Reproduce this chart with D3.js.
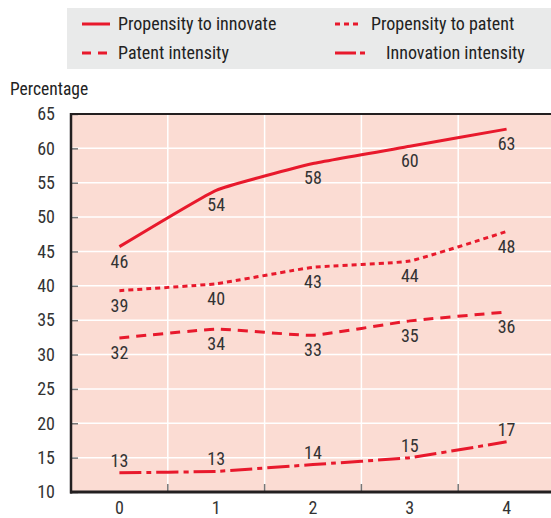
<!DOCTYPE html>
<html>
<head>
<meta charset="utf-8">
<script src="https://cdn.jsdelivr.net/npm/d3@7"></script>
<style>
  body { margin: 0; background: #fff; }
  svg { display: block; font-family: "Liberation Sans Narrow", "Roboto Condensed", "DejaVu Sans Condensed", sans-serif; }
</style>
</head>
<body>
<div class="chart"></div>
<script>
const categories = ["0", "1", "2", "3", "4"];
const propensityInnovate = [45.7, 53.9, 57.8, 60.3, 62.8];
const propensityPatent = [39.3, 40.3, 42.7, 43.6, 47.9];
const patentIntensity = [32.4, 33.7, 32.8, 34.9, 36.2];
const innovationIntensity = [12.8, 13.0, 14.0, 15.0, 17.3];
const labelsInnovate = ["46", "54", "58", "60", "63"];
const labelsPropPatent = ["39", "40", "43", "44", "48"];
const labelsPatentInt = ["32", "34", "33", "35", "36"];
const labelsInnovInt = ["13", "13", "14", "15", "17"];
const yTicks = [10, 15, 20, 25, 30, 35, 40, 45, 50, 55, 60, 65];

const series = [
  { name: "Propensity to innovate", values: propensityInnovate, labels: labelsInnovate, dash: null, below: true },
  { name: "Propensity to patent", values: propensityPatent, labels: labelsPropPatent, dash: "5,4", below: true },
  { name: "Patent intensity", values: patentIntensity, labels: labelsPatentInt, dash: "10,7", below: true },
  { name: "Innovation intensity", values: innovationIntensity, labels: labelsInnovInt, dash: "22,5,5,5", below: false }
];

const red = "#e8192c";
const textColor = "#333";
const fontSize = 18;

const svg = d3.select(".chart").append("svg").attr("width", 551).attr("height", 518);

const plot = { left: 71, right: 555, top: 114, bottom: 492 };

const x = d3.scaleBand().domain(categories).range([plot.left, plot.right]);
const y = d3.scaleLinear().domain([10, 65]).range([plot.bottom, plot.top]);

//plot background
svg.append("rect")
  .attr("x", plot.left).attr("y", plot.top)
  .attr("width", plot.right - plot.left).attr("height", plot.bottom - plot.top)
  .attr("fill", "#fbdcd3");

//grid lines
svg.append("g").selectAll("line")
  .data(yTicks.slice(1, -1))
  .enter().append("line")
  .attr("x1", plot.left).attr("x2", plot.right)
  .attr("y1", d => y(d)).attr("y2", d => y(d))
  .attr("stroke", "#fff").attr("stroke-width", 1.5);

svg.append("g").selectAll("line")
  .data(categories.slice(1))
  .enter().append("line")
  .attr("x1", d => x(d)).attr("x2", d => x(d))
  .attr("y1", plot.top).attr("y2", plot.bottom)
  .attr("stroke", "#fff").attr("stroke-width", 1.5);

//y axis
const yAxis = d3.axisLeft(y).tickValues(yTicks).tickSize(-7).tickPadding(16);
const yg = svg.append("g").attr("transform", `translate(${plot.left},0)`).call(yAxis);
yg.select(".domain").remove();
yg.selectAll(".tick line").attr("stroke", "#777").attr("stroke-width", 1.5);
yg.selectAll(".tick text").attr("fill", textColor).attr("font-size", fontSize);
yg.attr("font-family", null).attr("font-size", null);

//x axis
const xAxis = d3.axisBottom(x).tickSize(0).tickPadding(9);
const xg = svg.append("g").attr("transform", `translate(0,${plot.bottom})`).call(xAxis);
xg.select(".domain").remove();
xg.selectAll(".tick text").attr("fill", textColor).attr("font-size", fontSize);
xg.attr("font-family", null).attr("font-size", null);

//bottom ticks between bands
svg.append("g").selectAll("line")
  .data(categories.slice(1))
  .enter().append("line")
  .attr("x1", d => x(d)).attr("x2", d => x(d))
  .attr("y1", plot.bottom - 8).attr("y2", plot.bottom)
  .attr("stroke", "#777").attr("stroke-width", 1.5);

//frame lines
svg.append("line").attr("x1", plot.left).attr("x2", plot.right).attr("y1", plot.top).attr("y2", plot.top)
  .attr("stroke", "#231f20").attr("stroke-width", 2);
svg.append("line").attr("x1", plot.left).attr("x2", plot.left).attr("y1", plot.top - 1).attr("y2", plot.bottom + 1.5)
  .attr("stroke", "#231f20").attr("stroke-width", 2.5);
svg.append("line").attr("x1", plot.left - 1).attr("x2", plot.right).attr("y1", plot.bottom).attr("y2", plot.bottom)
  .attr("stroke", "#231f20").attr("stroke-width", 3);

//lines
const cx = (d, i) => x(categories[i]) + x.bandwidth() / 2;
const line = d3.line()
  .x(cx)
  .y(d => y(d))
  .curve(d3.curveCardinal.tension(0.65));

series.forEach(s => {
  svg.append("path")
    .datum(s.values)
    .attr("d", line)
    .attr("fill", "none")
    .attr("stroke", red)
    .attr("stroke-width", 3)
    .attr("stroke-dasharray", s.dash);

  svg.append("g").selectAll("text")
    .data(s.values)
    .enter().append("text")
    .attr("x", cx)
    .attr("y", d => s.below ? y(d) + 21 : y(d) - 6)
    .attr("text-anchor", "middle")
    .attr("font-size", fontSize)
    .attr("fill", textColor)
    .text((d, i) => s.labels[i]);
});

//y title
svg.append("text").attr("x", 10).attr("y", 95).attr("font-size", 17.5).attr("fill", "#222").text("Percentage");

//legend
svg.append("rect").attr("x", 67).attr("y", 8).attr("width", 490).attr("height", 61).attr("fill", "#e9eaea");

const legendPos = [
  { lx: 82, tx: 118, y: 24, len: 28, dash: null },
  { lx: 335, tx: 371, y: 24, len: 26, dash: "5,4" },
  { lx: 82, tx: 118, y: 53, len: 28, dash: "9,7" },
  { lx: 335, tx: 386, y: 53, len: 31, dash: "21,4,5,4" }
];

series.forEach((s, i) => {
  const p = legendPos[i];
  svg.append("line")
    .attr("x1", p.lx).attr("x2", p.lx + p.len)
    .attr("y1", p.y).attr("y2", p.y)
    .attr("stroke", red).attr("stroke-width", 3)
    .attr("stroke-dasharray", p.dash);
  svg.append("text")
    .attr("x", p.tx).attr("y", p.y + 6)
    .attr("font-size", fontSize)
    .attr("fill", "#222")
    .text(s.name);
});
</script>
</body>
</html>
